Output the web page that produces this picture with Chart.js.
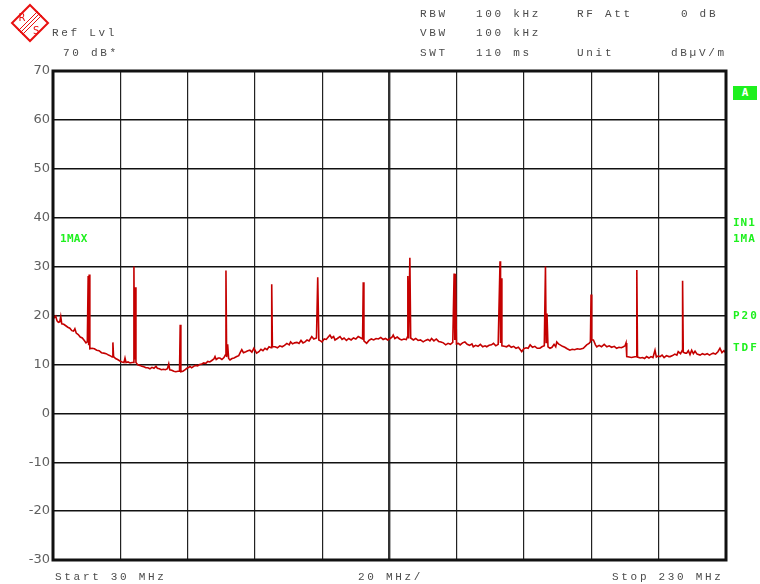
<!DOCTYPE html>
<html>
<head>
<meta charset="utf-8">
<script src="https://cdn.jsdelivr.net/npm/chart.js@4/dist/chart.umd.min.js"></script>
<style>
  html, body { margin: 0; padding: 0; background: #fff; }
  #wrap { position: relative; width: 760px; height: 584px; overflow: hidden; }
  #chart { position: absolute; left: 0; top: 0; }
  .t { position: absolute; font-family: "Liberation Mono", "DejaVu Sans Mono", monospace; font-size: 11px;
       line-height: 14px; letter-spacing: 2.7px; color: #4a4a4a; white-space: pre; }
  .g { position: absolute; font-family: "DejaVu Sans Mono", monospace; font-weight: bold; font-size: 11px;
       line-height: 14px; color: #1ef01e; white-space: pre; letter-spacing: 1px; }
  #logo { position: absolute; left: 10px; top: 3px; }
  #tagA { position: absolute; left: 733px; top: 86px; width: 24px; height: 14px; background: #1ef01e;
          color: #fff; font: bold 11px "DejaVu Sans Mono", monospace; line-height: 14px; text-align: center; }
</style>
</head>
<body>
<div id="wrap">
  <canvas id="chart" width="760" height="584"></canvas>

  <svg id="logo" width="40" height="40" viewBox="0 0 40 40">
    <polygon points="20,2 38,20 20,38 2,20" fill="#fff" stroke="#e81010" stroke-width="2"/>
    <line x1="8" y1="28" x2="28" y2="8" stroke="#e81010" stroke-width="1"/>
    <line x1="10" y1="30" x2="30" y2="10" stroke="#e81010" stroke-width="1"/>
    <line x1="12" y1="32" x2="32" y2="12" stroke="#e81010" stroke-width="1"/>
    <text x="8.5" y="18" font-family="DejaVu Sans" font-size="10" fill="#e81010">R</text>
    <text x="23" y="31" font-family="DejaVu Sans" font-size="10" fill="#e81010">S</text>
  </svg>

  <div class="t" style="left:52px; top:26px;">Ref Lvl</div>
  <div class="t" style="left:63px; top:46px;">70 dB*</div>

  <div class="t" style="left:420px; top:7px;">RBW</div>
  <div class="t" style="left:476px; top:7px;">100 kHz</div>
  <div class="t" style="left:577px; top:7px;">RF Att</div>
  <div class="t" style="left:681px; top:7px;">0 dB</div>

  <div class="t" style="left:420px; top:26px;">VBW</div>
  <div class="t" style="left:476px; top:26px;">100 kHz</div>

  <div class="t" style="left:420px; top:46px;">SWT</div>
  <div class="t" style="left:476px; top:46px;">110 ms</div>
  <div class="t" style="left:577px; top:46px;">Unit</div>
  <div class="t" style="left:671px; top:46px;">dBµV/m</div>

  <div class="t" style="left:55px; top:570px;">Start 30 MHz</div>
  <div class="t" style="left:358px; top:570px;">20 MHz/</div>
  <div class="t" style="left:612px; top:570px;">Stop 230 MHz</div>

  <div class="g" style="left:60px; top:232px; letter-spacing:0.3px;">1MAX</div>
  <div id="tagA">A</div>
  <div class="g" style="left:733px; top:216px;">IN1</div>
  <div class="g" style="left:733px; top:232px;">1MA</div>
  <div class="g" style="left:733px; top:309px; letter-spacing:2px;">P20</div>
  <div class="g" style="left:733px; top:341px; letter-spacing:2px;">TDF</div>
</div>

<script>
// Sweep span and display range
const startMHz = 30;
const stopMHz = 230;
const spanStepMHz = 20;
const refLevelDb = 70;
const bottomLevelDb = -30;
const levelStepDb = 10;

// Max-hold trace: frequency (MHz) and level (dBµV/m)
const traceFreq = [
  30.0, 30.4, 30.8, 31.2, 31.6, 32.0, 32.3, 32.6, 33.2, 33.8,
  34.4, 35.0, 35.6, 36.1, 36.5, 36.9, 37.5, 38.1, 38.7, 39.3,
  39.8, 40.2, 40.45, 40.6, 40.75, 40.95, 41.6, 42.3, 43.0, 43.7,
  44.4, 45.1, 45.8, 46.5, 47.2, 47.6, 47.8, 48.0, 48.6, 49.2,
  49.9, 50.5, 51.1, 51.4, 51.7, 52.3, 52.9, 53.5, 53.9, 54.05,
  54.2, 54.5, 54.65, 55.2, 55.8, 56.4, 57.0, 57.6, 58.2, 58.8,
  59.4, 60.0, 60.6, 61.0, 61.6, 62.2, 62.8, 63.4, 64.0, 64.4,
  64.7, 65.3, 65.9, 66.5, 67.1, 67.6, 67.8, 68.0, 68.6, 69.2,
  69.8, 70.4, 70.7, 71.2, 71.8, 72.4, 73.0, 73.6, 74.2, 74.8,
  75.4, 76.0, 76.6, 77.2, 77.8, 78.15, 78.5, 79.1, 79.6, 80.2,
  80.8, 81.2, 81.4, 81.6, 81.9, 82.2, 82.6, 83.2, 83.8, 84.6,
  85.2, 85.7, 86.1, 86.6, 87.3, 87.9, 88.5, 89.1, 89.7, 90.5,
  91.2, 91.8, 92.4, 93.0, 93.6, 94.2, 94.8, 95.0, 95.2, 96.0,
  96.7, 97.4, 98.1, 98.8, 99.5, 100.2, 100.6, 101.2, 101.8, 102.5,
  103.1, 103.7, 104.3, 104.9, 105.5, 106.1, 106.9, 107.5, 108.3, 108.67,
  109.0, 109.5, 109.9, 110.6, 111.2, 111.8, 112.3, 112.8, 113.4, 113.8,
  114.5, 115.3, 115.9, 116.5, 117.2, 117.9, 118.6, 119.3, 120.0, 120.7,
  121.5, 122.0, 122.2, 122.4, 123.2, 123.9, 124.6, 125.3, 126.0, 126.7,
  127.4, 128.1, 128.8, 129.5, 130.2, 130.8, 131.1, 131.6, 132.3, 133.0,
  133.6, 134.3, 135.0, 135.3, 135.45, 135.7, 136.05, 136.3, 137.1, 137.8,
  138.5, 139.2, 140.0, 140.7, 141.4, 142.0, 142.5, 143.2, 143.9, 144.6,
  145.3, 146.0, 146.7, 147.4, 148.1, 148.8, 149.2, 149.4, 149.6, 149.9,
  150.5, 151.0, 151.7, 152.4, 153.1, 153.8, 154.5, 154.9, 155.6, 156.3,
  157.0, 157.7, 158.4, 158.9, 159.6, 160.3, 160.9, 161.6, 162.3, 162.85,
  163.0, 163.15, 163.4, 164.1, 164.8, 165.5, 166.2, 166.9, 167.6, 168.3,
  169.0, 169.3, 169.9, 170.6, 171.2, 171.8, 172.5, 173.2, 173.9, 174.7,
  175.3, 176.0, 176.35, 176.55, 176.8, 177.1, 177.7, 178.3, 178.9, 179.4,
  179.7, 180.2, 180.7, 181.4, 182.1, 182.8, 183.6, 184.3, 185.0, 185.8,
  186.6, 187.6, 188.6, 189.3, 189.7, 189.9, 190.1, 190.6, 191.2, 191.6,
  192.3, 193.0, 193.8, 194.6, 195.3, 196.0, 196.8, 197.5, 198.2, 198.9,
  199.5, 200.0, 200.3, 200.5, 201.2, 201.9, 202.6, 203.3, 203.5, 203.7,
  204.5, 205.2, 205.8, 206.4, 207.1, 207.7, 208.3, 208.9, 209.3, 209.8,
  210.4, 211.0, 211.6, 212.3, 213.0, 213.4, 214.1, 214.8, 215.4, 215.8,
  216.5, 217.0, 217.1, 217.3, 217.9, 218.3, 218.8, 219.3, 219.8, 220.3,
  220.8, 221.4, 222.3, 223.0, 223.7, 224.4, 225.1, 225.8, 226.2, 226.9,
  227.6, 228.2, 228.8, 229.4, 230.0
];
const traceLevel = [
  20.3, 19.6, 19.9, 18.9, 18.6, 18.7, 19.8, 18.3, 18.2, 17.9,
  17.6, 17.4, 16.9, 16.8, 17.3, 16.4, 16.1, 15.6, 15.4, 14.9,
  14.4, 14.6, 28.1, 13.9, 28.4, 13.2, 13.3, 13.2, 12.9, 12.8,
  12.4, 12.3, 12.2, 11.9, 11.7, 11.5, 14.5, 11.6, 11.2, 11.0,
  10.7, 10.5, 10.4, 11.3, 10.4, 10.5, 10.3, 10.4, 10.4, 30.0,
  11.0, 25.8, 10.4, 9.9, 9.8, 9.6, 9.5, 9.3, 9.3, 9.1,
  9.4, 9.2, 9.6, 9.2, 9.1, 8.9, 9.0, 8.9, 9.1, 10.1,
  8.9, 8.8, 8.6, 8.5, 8.6, 8.6, 18.1, 8.5, 8.6, 8.9,
  9.2, 9.4, 9.6, 9.3, 9.6, 9.8, 9.7, 10.0, 10.1, 10.3,
  10.2, 10.6, 10.5, 10.8, 11.1, 11.6, 11.0, 11.3, 11.3, 11.0,
  11.4, 11.9, 29.2, 11.5, 14.1, 11.2, 10.9, 11.2, 11.3, 11.6,
  11.8, 12.5, 13.0, 12.4, 12.6, 12.8, 12.9, 12.5, 13.3, 12.3,
  12.6, 13.1, 12.8, 13.3, 13.0, 13.6, 13.4, 26.4, 13.6, 13.6,
  13.4, 13.8, 13.6, 13.9, 14.3, 14.0, 14.6, 14.2, 14.4, 14.5,
  14.3, 14.9, 14.4, 14.6, 15.0, 14.8, 15.7, 15.2, 15.4, 27.8,
  15.0, 14.8, 14.6, 15.2, 15.1, 15.6, 16.0, 15.4, 15.7, 15.0,
  15.3, 15.7, 15.1, 15.4, 14.9, 15.3, 15.0, 15.4, 15.2, 15.7,
  15.4, 15.2, 26.8, 14.8, 14.3, 14.9, 15.2, 15.0, 15.3, 15.2,
  15.5, 15.1, 15.3, 15.0, 15.3, 15.6, 16.0, 15.3, 15.6, 15.2,
  15.0, 15.2, 15.1, 15.6, 28.1, 15.3, 31.8, 15.4, 15.0, 15.3,
  14.9, 15.0, 14.6, 14.9, 15.1, 14.8, 15.3, 14.8, 15.2, 14.7,
  14.6, 14.4, 14.0, 14.3, 14.1, 14.5, 28.6, 15.0, 28.5, 14.2,
  14.3, 14.0, 14.4, 14.6, 14.1, 13.9, 14.2, 13.6, 13.9, 13.7,
  14.1, 13.6, 13.8, 13.6, 13.9, 14.0, 14.3, 13.8, 14.1, 31.1,
  14.4, 27.6, 13.8, 13.7, 13.6, 13.9, 13.5, 13.7, 13.3, 13.5,
  12.9, 12.6, 13.2, 13.4, 13.3, 14.0, 13.5, 13.7, 13.3, 13.3,
  13.6, 13.8, 30.0, 14.5, 20.4, 13.6, 13.3, 13.5, 14.1, 13.6,
  14.6, 14.2, 14.0, 13.7, 13.5, 13.2, 12.9, 13.1, 13.0, 13.2,
  13.1, 13.3, 14.0, 14.3, 14.6, 24.3, 15.0, 15.0, 14.0, 13.6,
  13.9, 13.6, 14.1, 13.6, 13.8, 13.5, 13.7, 13.3, 13.5, 13.4,
  13.6, 13.8, 14.4, 11.6, 11.5, 11.4, 11.5, 11.6, 29.3, 11.5,
  11.3, 11.4, 11.2, 11.6, 11.3, 11.6, 11.4, 12.9, 11.5, 11.7,
  11.6, 11.9, 11.4, 11.8, 11.6, 11.6, 11.8, 12.1, 11.9, 12.6,
  12.2, 12.9, 27.1, 12.5, 12.3, 12.3, 12.8, 12.0, 12.9, 12.2,
  12.7, 12.1, 11.9, 12.2, 12.0, 12.2, 11.9, 12.2, 12.3, 12.1,
  12.6, 13.3, 12.4, 12.8, 12.3
];

const points = traceFreq.map((f, i) => ({ x: f, y: traceLevel[i] }));

// Heavy frame around the graticule
const framePlugin = {
  id: 'frame',
  afterDraw(chart) {
    const a = chart.chartArea;
    const ctx = chart.ctx;
    ctx.save();
    ctx.strokeStyle = '#111';
    ctx.lineWidth = 3;
    ctx.strokeRect(a.left, a.top, a.right - a.left, a.bottom - a.top);
    ctx.restore();
  }
};

new Chart(document.getElementById('chart'), {
  type: 'line',
  data: {
    datasets: [{
      data: points,
      borderColor: '#c40000',
      borderWidth: 1.6,
      pointRadius: 0,
      tension: 0,
      fill: false
    }]
  },
  options: {
    responsive: false,
    animation: false,
    devicePixelRatio: 1,
    layout: { padding: { top: 71, right: 34, bottom: 24, left: 0 } },
    plugins: { legend: { display: false }, tooltip: { enabled: false } },
    scales: {
      x: {
        type: 'linear',
        min: startMHz,
        max: stopMHz,
        ticks: { display: false, stepSize: spanStepMHz },
        grid: {
          drawTicks: false,
          color: (c) => (c.tick && c.tick.value === 130 ? '#333' : '#222'),
          lineWidth: (c) => (c.tick && c.tick.value === 130 ? 2.4 : 1.2)
        },
        border: { display: false },
        afterFit: (s) => { s.height = 0; }
      },
      y: {
        min: bottomLevelDb,
        max: refLevelDb,
        ticks: {
          stepSize: levelStepDb,
          color: '#606060',
          padding: 3,
          font: { family: 'DejaVu Sans', size: 13 }
        },
        grid: { drawTicks: false, color: '#111', lineWidth: 1.4 },
        border: { display: false },
        afterFit: (s) => { s.width = 53; }
      }
    }
  },
  plugins: [framePlugin]
});
</script>
</body>
</html>
